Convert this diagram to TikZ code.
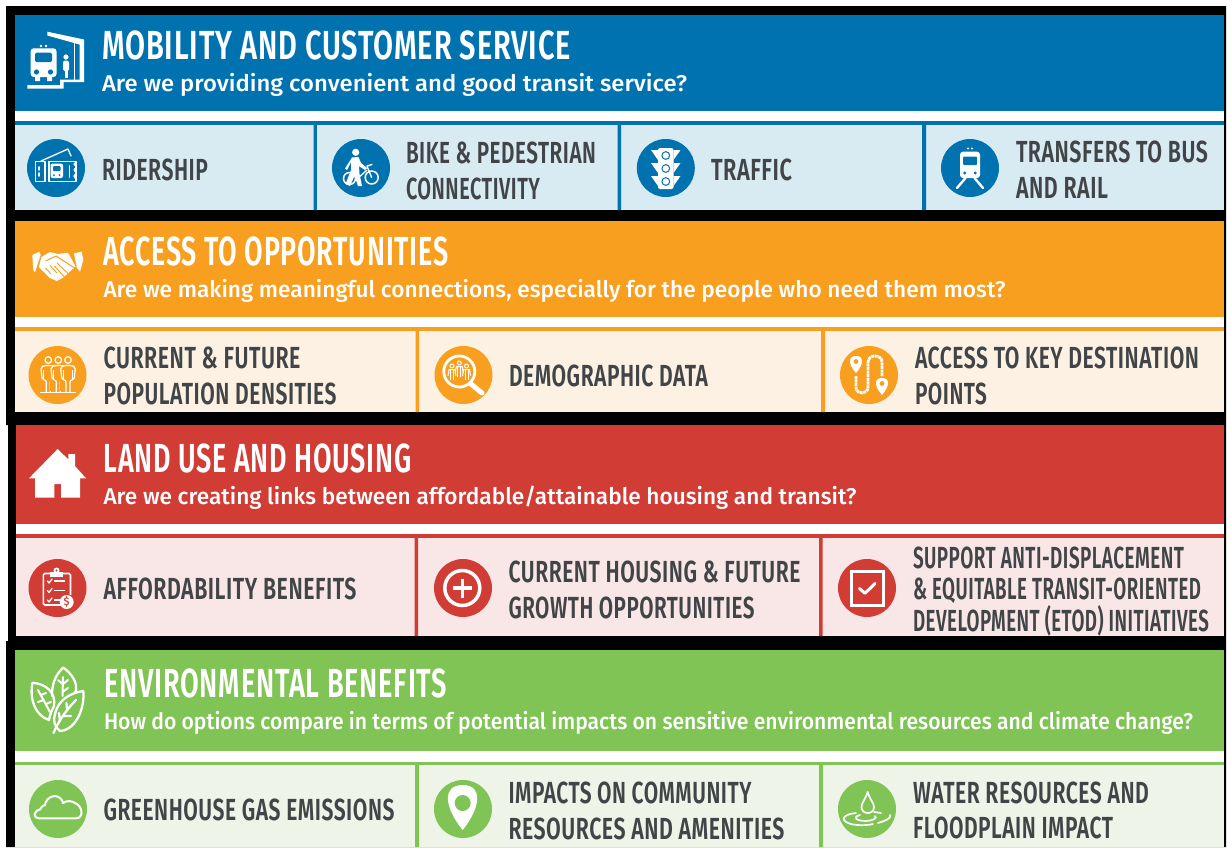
\documentclass[tikz,border=0pt]{standalone}
\usepackage{fontspec}
\usepackage{graphicx}
\setmainfont{Fira Sans}
\newfontfamily\titlef{Fira Sans}[UprightFont=* SemiBold,LetterSpace=3]
\newfontfamily\subf{Fira Sans}[UprightFont=* Medium]
\newfontfamily\itemf{Fira Sans}[UprightFont=* SemiBold,LetterSpace=2.5]
\definecolor{cblue}{HTML}{0072B0}
\definecolor{lblue}{HTML}{D8EBF3}
\definecolor{corange}{HTML}{F99F1F}
\definecolor{lorange}{HTML}{FCF1E3}
\definecolor{cred}{HTML}{D13C35}
\definecolor{lred}{HTML}{F9E6E6}
\definecolor{cgreen}{HTML}{80C455}
\definecolor{lgreen}{HTML}{EEF4E8}
\definecolor{ink}{HTML}{414547}
\newsavebox\fitbox
\newdimen\fitd
\newcommand\fitw[2]{\sbox\fitbox{#2}\fitd=\wd\fitbox\pgfmathsetmacro\fitsx{#1/\the\fitd}\scalebox{\fitsx}[1]{\usebox\fitbox}}
\newcommand\ttl[5]{\node[txt,text=white] (#1) at (#2,#3+0.8) {\titlef\fontsize{40.6}{40.6}\selectfont\fitw{#4}{#5}};}
\newcommand\sbt[5]{\node[txt,text=white] (#1) at (#2,#3+0.8) {\subf\fontsize{22.8}{22.8}\selectfont\fitw{#4}{#5}};}
\newcommand\itm[5]{\node[txt,text=ink] (#1) at (#2,#3+0.5) {\itemf\fontsize{30.5}{30.5}\selectfont\fitw{#4}{#5}};}
\tikzset{txt/.style={anchor=base west,inner sep=0pt,outer sep=0pt},
 ico/.style={draw=white,line width=1.3pt,line join=round,line cap=round}}
\begin{document}
\begin{tikzpicture}[x=1pt,y=-1pt]
\useasboundingbox (0,0) rectangle (1227,847);
\fill[white] (0,0) rectangle (1227,847);
% black backing
\fill[black] (6,6) -- (1226,6) -- (1226,847) -- (6,847) -- (6,641) -- (8,641) -- (8,425) -- (6,425) -- cycle;
% band 1
\fill[cblue] (14.5,15) rectangle (1224,111);
\fill[white] (14.5,111) rectangle (1224,121);
\fill[cblue] (14.5,121) rectangle (1224,125);
\fill[lblue] (14.5,125) rectangle (1224,210);
\fill[cblue] (313.5,125) rectangle (316.8,210) (617.6,125) rectangle (621,210) (922,125) rectangle (926,210);
% band 2
\fill[corange] (14.5,221) rectangle (1224,317.3);
\fill[white] (14.5,317.3) rectangle (1224,327);
\fill[corange] (14.5,327) rectangle (1224,331);
\fill[lorange] (14.5,331) rectangle (1224,412);
\fill[corange] (415.7,331) rectangle (419,412) (821,331) rectangle (825,412);
% band 3
\fill[cred] (16,425) rectangle (1224,524);
\fill[white] (16,524) rectangle (1224,533.5);
\fill[cred] (16,533.5) rectangle (1224,538);
\fill[lred] (16,538) rectangle (1224,636);
\fill[cred] (414.7,538) rectangle (418,636) (819,538) rectangle (822.7,636);
% band 4
\fill[cgreen] (14.7,650) rectangle (1224,751);
\fill[white] (14.7,751) rectangle (1224,761.7);
\fill[cgreen] (14.7,761.7) rectangle (1224,765);
\fill[lgreen] (14.7,765) rectangle (1224,847);
\fill[cgreen] (415,765) rectangle (419,847) (819,765) rectangle (823,847);
% titles
\ttl{t1}{102}{58.7}{469}{MOBILITY AND CUSTOMER SERVICE}
\sbt{s1}{102}{90.7}{585}{Are we providing convenient and good transit service?}
\ttl{t2}{103.5}{265}{345}{ACCESS TO OPPORTUNITIES}
\sbt{s2}{103.5}{296.7}{902}{Are we making meaningful connections, especially for the people who need them most?}
\ttl{t3}{103.5}{471.7}{308}{LAND USE AND HOUSING}
\sbt{s3}{103.5}{504}{753}{Are we creating links between affordable/attainable housing and transit?}
\ttl{t4}{104}{697}{343}{ENVIRONMENTAL BENEFITS}
\sbt{s4}{104}{729}{1089}{How do options compare in terms of potential impacts on sensitive environmental resources and climate change?}
% items
\itm{i1}{102}{180}{106}{RIDERSHIP}
\itm{i2a}{406}{163}{190}{BIKE \& PEDESTRIAN}
\itm{i2b}{406}{199}{134}{CONNECTIVITY}
\itm{i3}{711}{180}{81}{TRAFFIC}
\itm{i4a}{1016}{162}{192}{TRANSFERS TO BUS}
\itm{i4b}{1016}{198}{92}{AND RAIL}
\itm{j1a}{103.5}{368}{197}{CURRENT \& FUTURE}
\itm{j1b}{103.5}{404}{233}{POPULATION DENSITIES}
\itm{j2}{509}{386}{199}{DEMOGRAPHIC DATA}
\itm{j3a}{915}{368}{284}{ACCESS TO KEY DESTINATION}
\itm{j3b}{915}{404}{72}{POINTS}
\itm{k1}{103.5}{599}{253}{AFFORDABILITY BENEFITS}
\itm{k2a}{508.5}{582}{292}{CURRENT HOUSING \& FUTURE}
\itm{k2b}{508.5}{618}{246}{GROWTH OPPORTUNITIES}
\itm{k3a}{913}{567.7}{271}{SUPPORT ANTI-DISPLACEMENT}
\itm{k3b}{913}{599}{288}{\& EQUITABLE TRANSIT-ORIENTED}
\itm{k3c}{913}{630.7}{296}{DEVELOPMENT (ETOD) INITIATIVES}
\itm{l1}{103.5}{820}{291}{GREENHOUSE GAS EMISSIONS}
\itm{l2a}{508.5}{803}{243}{IMPACTS ON COMMUNITY}
\itm{l2b}{508.5}{839}{276}{RESOURCES AND AMENITIES}
\itm{l3a}{913}{802.7}{236}{WATER RESOURCES AND}
\itm{l3b}{913}{838}{200}{FLOODPLAIN IMPACT}
% circles
\foreach \cx/\cy/\c in {56/168/cblue,361/168/cblue,665.8/168/cblue,970/168/cblue,
 57.5/375/corange,463.5/375/corange,869/375/corange,
 57.5/588/cred,463/588/cred,867/588/cred,
 58/809/cgreen,463/809/cgreen,867/809/cgreen}
  \fill[\c] (\cx,\cy) circle (29);
%% header icon: mobility
\fill[white,rounded corners=3pt] (30.7,48.3) rectangle (56.5,77);
\fill[white] (35,76) rectangle (40,81) (47,76) rectangle (52,81);
\fill[cblue,rounded corners=1.5pt] (35,52.5) rectangle (52,62);
\fill[cblue] (36.5,72) circle (2.6) (50.5,72) circle (2.6);
\fill[white] (41,46) circle (1.4) (46,46) circle (1.4);
\fill[white] (27.3,85) -- (60,85) -- (60,79.5) -- (84,79.5) -- (84,82) -- (63.5,82) -- (63.5,88.5) -- (27.3,88.5) -- cycle;
\fill[white] (47.3,31.7) -- (84,39.5) -- (84,80) -- (79.5,80) -- (79.5,44.5) -- (47.3,35.5) -- cycle;
\fill[white] (73.6,42.5) rectangle (75,80);
\fill[white] (66,57) circle (2.6);
\fill[white,rounded corners=1.5pt] (63.2,60.5) rectangle (69,71);
\fill[white] (64.5,70) rectangle (67.7,78);
%% ridership
\begin{scope}[ico]
\draw (35.5,161.5) rectangle (45,181.5) (49,161.5) rectangle (76,181.5);
\draw (41,161) -- (68,149) -- (71,156);
\draw (76.5,162) -- (74,164) -- (76.5,167) -- (74,170) -- (76.5,173) -- (74,176) -- (76.5,180);
\draw[line width=1.8pt] (39,167) -- (39,170) (39,173) -- (39,176);
\draw[line width=1.8pt] (69.5,166) -- (69.5,177);
\end{scope}
\fill[white,rounded corners=2pt] (50.5,163.5) rectangle (63,178);
\fill[cblue,rounded corners=1pt] (53,166) rectangle (60.5,171);
\fill[cblue] (54,175) circle (1) (59.5,175) circle (1);
%% bike and pedestrian
\fill[white] (355.7,152.3) circle (3.6);
\fill[white] (352,157.5) -- (358.5,157) -- (361,163) -- (367,168) -- (365,170) -- (359,166) -- (359.5,174) -- (362,186) -- (358,186) -- (354.5,176) -- (350,186) -- (345.5,184) -- (351,170) -- (351,162) -- (347,170) -- (345,168.5) -- cycle;
\begin{scope}[ico]
\draw[line width=1.5pt] (349.5,178.5) circle (6) (371.7,177.5) circle (6.5);
\draw (371.7,177.5) -- (367,166) -- (372,164.5);
\draw (367,170) -- (357,179);
\end{scope}
%% traffic light
\fill[white] (651,150) -- (658,150) -- (658,160) -- cycle (680.5,150) -- (673.5,150) -- (673.5,160) -- cycle
 (651,163) -- (658,163) -- (658,173) -- cycle (680.5,163) -- (673.5,163) -- (673.5,173) -- cycle
 (651,176) -- (658,176) -- (658,186) -- cycle (680.5,176) -- (673.5,176) -- (673.5,186) -- cycle;
\fill[white,rounded corners=2pt] (658,148) rectangle (673.5,189);
\fill[cblue] (665.8,155.5) circle (4.4) (665.8,168.5) circle (4.4) (665.8,181.5) circle (4.4);
\fill[white] (665.8,155.5) circle (3.2) (665.8,168.5) circle (3.2) (665.8,181.5) circle (3.2);
%% train (transfers)
\fill[white,rounded corners=3pt] (960,151.7) rectangle (980,178);
\fill[cblue,rounded corners=1pt] (963,156.5) rectangle (977,165);
\fill[cblue] (964.7,173) circle (1.6) (975.3,173) circle (1.6);
\fill[white] (968,148.5) circle (1.2) (972,148.5) circle (1.2);
\draw[ico,line width=2.4pt] (957,188) -- (965.5,178) (983,188) -- (974.5,178);
%% handshake
\fill[white] (32.3,255) -- (39.3,251.7) -- (40.7,255) -- (35,272.3) -- (33.3,270) -- cycle;
\fill[white] (74,253.3) -- (81.7,251.7) -- (83.3,260) -- (80,271.7) -- (77,268) -- cycle;
\fill[white] (41.5,257) -- (50,252) -- (58,254) -- (68,252.7) -- (75.5,266.5) -- (63.3,277.5) -- (56.7,281) -- (50,278) -- (38.8,267) -- cycle;
\draw[corange,line width=1pt,line join=round] (45.5,261) -- (56,256) -- (60,258.5) -- (76,269);
\draw[corange,line width=.9pt] (57,263) -- (69,274.5) (54.5,266) -- (64.5,277) (45.5,268) -- (51,274) (50,265.5) -- (57,273);
%% population
\begin{scope}[draw=white,line width=1.2pt,line join=round]
\foreach \px in {48.3,58.3,68} {
 \fill[corange] (\px-8,366) rectangle (\px+8,391);
 \draw (\px,360) circle (3.3);
 \draw[rounded corners=2pt] (\px-2,392) -- (\px-2,380) -- (\px-6,380) -- (\px-7.5,367) -- (\px-4,365.5) -- (\px+4,365.5) -- (\px+7.5,367) -- (\px+6,380) -- (\px+2,380) -- (\px+2,392);
 \draw (\px-4.5,370) -- (\px-4.5,380) (\px+4.5,370) -- (\px+4.5,380);
}
\draw[line width=1.5pt] (40,392.7) -- (76,392.7);
\end{scope}
%% demographic
\draw[white,line width=2.8pt] (459.3,371.5) circle (15.5);
\draw[white,line width=5pt,line cap=round] (471,384) -- (482,393);
\begin{scope}[draw=white,line width=1pt,line join=round]
\foreach \px/\py in {452/366,466.5/366,459.3/363} {
 \draw (\px,\py) circle (2);
 \draw (\px-4,\py+10) -- (\px-3,\py+3.5) -- (\px+3,\py+3.5) -- (\px+4,\py+10);
 \draw (\px-1.5,\py+3.5) -- (\px-1.5,\py+14) (\px+1.5,\py+3.5) -- (\px+1.5,\py+14);
}
\end{scope}
%% access route
\draw[white,line width=2.8pt,dash pattern=on 3pt off .6pt,line cap=butt] (856,376) -- (856,387) .. controls (856,395) and (868,395) .. (868,387) -- (868,362) .. controls (868,354) and (882,354) .. (882,362) -- (882,376);
\foreach \px/\py in {856/363,882/385} {
 \fill[white] (\px,\py-7) .. controls (\px-8,\py-7) and (\px-8,\py+1) .. (\px,\py+10) .. controls (\px+8,\py+1) and (\px+8,\py-7) .. (\px,\py-7) -- cycle;
 \fill[corange] (\px,\py-1.5) circle (2.4);
}
%% house
\fill[white] (57.7,449) -- (68.3,459.5) -- (68.3,454) -- (75,454) -- (75,466) -- (86,478.3) -- (80,478.3) -- (80,497.7) -- (61,497.7) -- (61,484) -- (54.3,484) -- (54.3,497.7) -- (35,497.7) -- (35,478.3) -- (29,478.3) -- cycle;
%% clipboard
\draw[white,line width=1.6pt,rounded corners=1.5pt,line join=round] (50,573.5) -- (43.3,573.5) -- (43.3,605) -- (62,605);
\draw[white,line width=1.6pt,rounded corners=1.5pt] (63,573.5) -- (70.5,573.5) -- (70.5,595);
\fill[white] (50,572) rectangle (63,576.5);
\fill[white] (56.5,570.5) circle (3);
\fill[cred] (56.5,570.5) circle (1.1);
\begin{scope}[draw=white,line width=1.3pt,line cap=round,line join=round]
\foreach \dy in {0,9.5,19} {
 \draw (47.5,581+\dy) -- (49,583+\dy) -- (52,579+\dy);
 \draw (54.5,581+\dy) -- (64.5,581+\dy);
}
\end{scope}
\fill[white] (66.7,602) circle (7);
\node[inner sep=0pt,text=cred,font=\subf\fontsize{11}{11}\selectfont] (dollar) at (66.7,602) {\$};
%% plus
\draw[white,line width=3.5pt] (462.3,588) circle (17.5);
\draw[white,line width=3.5pt] (452.8,588) -- (471.8,588) (462.3,578.5) -- (462.3,597.5);
%% checkbox
\draw[white,line width=3pt] (851.5,571) rectangle (883,605);
\draw[white,line width=3pt,line cap=round,line join=round] (859.5,588.5) -- (865,593.3) -- (875,583.5);
%% leaves
\begin{scope}[draw=white,line width=2.3pt,line join=round,line cap=round]
\draw (32.5,682.7) .. controls (46,684) and (56,692) .. (54,706) .. controls (52,710) and (50,714) .. (49,720) .. controls (36,716) and (29,700) .. (32.5,682.7);
\draw (52,696) .. controls (52,686) and (54,676) .. (63.3,667.5) .. controls (72,674) and (79,684) .. (75,693);
\draw (83.3,691) .. controls (70,693) and (58,700) .. (55,714) .. controls (53,720) and (54,726) .. (60,731) .. controls (76,730) and (85,708) .. (83.3,691);
\draw (53.5,733) .. controls (58,722) and (66,710) .. (76,700);
\draw (60,721) -- (59,713) (63,716) -- (71,716) (67,709) -- (66.5,703);
\draw[line width=2pt] (63,677) -- (62.5,696) (62.5,684) -- (58,680) (63,684) -- (68,680) (62.5,692) -- (68,688);
\draw[line width=2pt] (38,690) -- (50,712) (41,695) -- (46,693) (44,700) -- (38,702) (46,704) -- (51,702);
\end{scope}
%% cloud
\draw[white,line width=2pt,line join=round] (39,818.3) .. controls (33,818.3) and (33,811) .. (40,809.5) .. controls (42,806) and (44,805) .. (45,805) .. controls (46,797) and (56,793) .. (61,799) .. controls (62,800) and (63,802) .. (63,803) .. controls (67,800) and (72,801) .. (75,803) .. controls (83,806) and (84,818.3) .. (76,818.3) -- cycle;
%% location pin
\fill[white] (462.7,785) .. controls (442,785) and (444,807) .. (462.7,830) .. controls (481,807) and (483,785) .. (462.7,785) -- cycle;
\fill[cgreen] (462.7,803) circle (8);
%% water
\draw[white,line width=1.7pt,line join=round] (867.7,792) .. controls (865,800) and (861.5,803) .. (861.5,807) .. controls (861.5,815) and (874,815) .. (874,807) .. controls (874,803) and (870,800) .. (867.7,792) -- cycle;
\draw[white,line width=1.7pt,line cap=round] (856,813) .. controls (847,814) and (842,817) .. (844,820) .. controls (848,826) and (865,826) .. (873,824);
\draw[white,line width=1.7pt,line cap=round] (878,823) .. controls (885,821) and (892,818) .. (890,815);
\draw[white,line width=1.7pt,line cap=round] (860,815) .. controls (852,817) and (856,821) .. (866,821) .. controls (872,821) and (878,818) .. (875,816);
\draw[white,line width=1.7pt,line cap=round] (874,812) -- (881,813);
\end{tikzpicture}
\end{document}
